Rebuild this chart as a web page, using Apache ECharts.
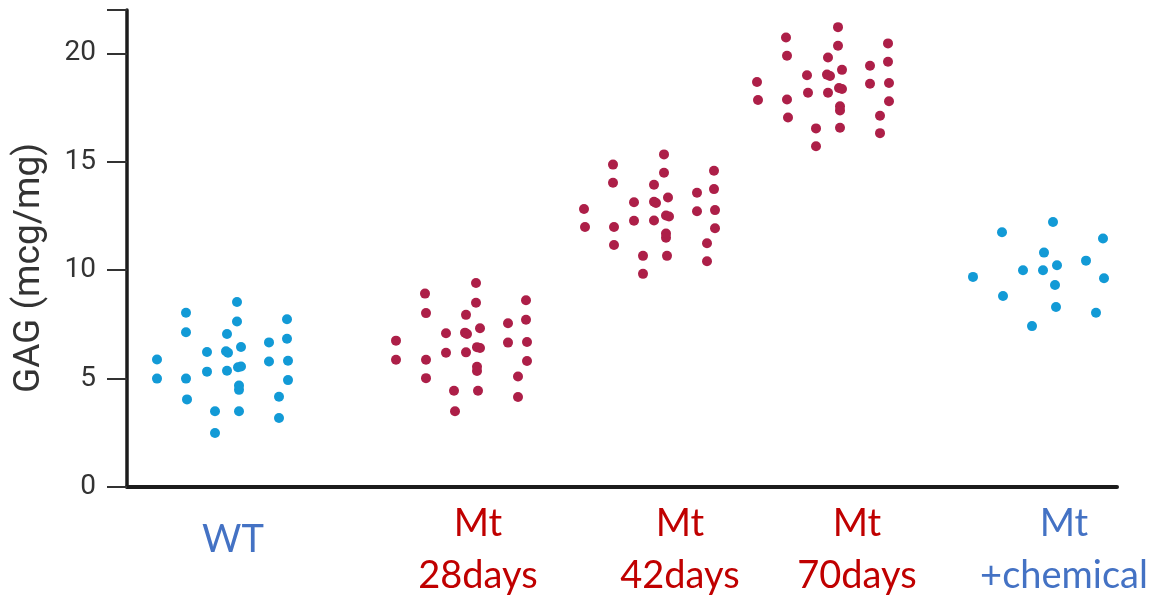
<!DOCTYPE html>
<html>
<head>
<meta charset="utf-8">
<title>GAG scatter</title>
<script src="https://cdn.jsdelivr.net/npm/echarts@6/dist/echarts.min.js"></script>
<style>
  html, body { margin: 0; padding: 0; background: #fff; }
  #chart { width: 1153px; height: 598px; }
</style>
</head>
<body>
<div id="chart"></div>
<script>
// group names, shown under the axis
const groups = ['WT', 'Mt\n28days', 'Mt\n42days', 'Mt\n70days', 'Mt\n+chemical']
const groupColor = ['blue', 'red', 'red', 'red', 'blue']

// each point: [horizontal spread within the strip, GAG value]
const wt = [
    [110, 8.53], [59, 8.04], [160, 7.74], [110, 7.63], [59, 7.14], [100, 7.06],
    [142, 6.67], [160, 6.84], [114, 6.46], [80, 6.23], [99, 6.26], [101, 6.19],
    [30, 5.88], [142, 5.79], [161, 5.82], [111, 5.52], [114, 5.56], [80, 5.32],
    [100, 5.36], [30, 5.0], [59, 5.0], [161, 4.93], [112, 4.48], [112, 4.68],
    [60, 4.04], [152, 4.16], [88, 3.49], [112, 3.49], [152, 3.18], [88, 2.49],
]
const mt28 = [
    [349, 9.41], [298, 8.92], [399, 8.61], [349, 8.50], [299, 8.02], [339, 7.94],
    [381, 7.55], [399, 7.71], [353, 7.32], [319, 7.09], [338, 7.12], [340, 7.06],
    [269, 6.75], [381, 6.66], [400, 6.69], [350, 6.45], [353, 6.41], [319, 6.19],
    [339, 6.21], [269, 5.87], [299, 5.87], [400, 5.81], [350, 5.35], [350, 5.55],
    [299, 5.02], [391, 5.10], [327, 4.44], [351, 4.44], [391, 4.15], [328, 3.49],
]
const mt42 = [
    [537, 15.34], [486, 14.87], [587, 14.59], [537, 14.49], [486, 14.03], [527, 13.94],
    [570, 13.57], [587, 13.74], [541, 13.35], [507, 13.13], [527, 13.16], [529, 13.10],
    [457, 12.82], [570, 12.72], [588, 12.77], [539, 12.52], [542, 12.48], [507, 12.28],
    [527, 12.29], [458, 11.99], [487, 11.99], [588, 11.93], [539, 11.50], [539, 11.69],
    [487, 11.16], [580, 11.24], [516, 10.66], [540, 10.66], [580, 10.41], [516, 9.83],
]
const mt70 = [
    [711, 21.21], [659, 20.73], [761, 20.46], [711, 20.35], [660, 19.89], [701, 19.81],
    [743, 19.43], [761, 19.61], [715, 19.24], [680, 18.99], [700, 19.02], [703, 18.96],
    [630, 18.68], [743, 18.60], [762, 18.63], [712, 18.40], [715, 18.36], [681, 18.18],
    [701, 18.18], [631, 17.85], [660, 17.87], [762, 17.79], [713, 17.37], [713, 17.56],
    [661, 17.04], [753, 17.12], [689, 16.54], [713, 16.57], [753, 16.32], [689, 15.72],
]
const chemical = [
    [926, 12.22], [875, 11.75], [976, 11.46], [917, 10.81], [959, 10.44], [930, 10.23],
    [896, 10.0], [916, 10.0], [846, 9.69], [977, 9.63], [928, 9.32], [876, 8.81],
    [929, 8.30], [969, 8.04], [905, 7.42],
]
const yMax = 22
const yStep = 5

const seriesData = [wt, mt28, mt42, mt70, chemical]
const dotColor = { blue: '#129ad6', red: '#ad1f48' }
const textColor = { blue: '#4472c4', red: '#c00000' }
const labelAt = [106, 351, 553, 730, 937]

const chart = echarts.init(document.getElementById('chart'))

chart.setOption({
    animation: false,
    grid: { left: 127, right: 36, top: 10, bottom: 111 },
    xAxis: {
        type: 'value',
        min: 0,
        max: 990,
        splitLine: { show: false },
        axisLine: { show: true, lineStyle: { color: '#1c1c1c', width: 4 } },
        axisTick: { show: false },
        axisLabel: {
            customValues: labelAt,
            margin: 11,
            verticalAlign: 'top',
            formatter(value) {
                const i = labelAt.indexOf(value)
                if (i < 0) return ''
                const style = groupColor[i]
                if (groups[i].indexOf('\n') < 0) return `{${style}Single|${groups[i]}}`
                return groups[i].split('\n').map(line => `{${style}|${line}}`).join('\n')
            },
            rich: {
                blue: { color: textColor.blue, fontSize: 38, fontFamily: 'Lato', lineHeight: 52 },
                red: { color: textColor.red, fontSize: 38, fontFamily: 'Lato', lineHeight: 52 },
                blueSingle: { color: textColor.blue, fontSize: 38, fontFamily: 'Lato', lineHeight: 84 },
            },
        },
    },
    yAxis: [
        {
            // ticks and numbers, set a little left of the axis line
            type: 'value',
            min: 0,
            max: yMax,
            interval: yStep,
            offset: 4,
            splitLine: { show: false },
            axisLine: { show: true, lineStyle: { color: 'rgba(0,0,0,0)' } },
            axisTick: {
                show: true,
                length: 20,
                lineStyle: { color: '#333', width: 2 },
            },
            axisLabel: {
                margin: 27,
                color: '#333',
                fontSize: 28,
                fontFamily: 'Roboto',
                formatter: value => (value % yStep === 0 ? String(value) : ''),
            },
        },
        {
            // the axis line itself
            type: 'value',
            min: 0,
            max: yMax,
            position: 'left',
            splitLine: { show: false },
            axisLine: { show: true, lineStyle: { color: '#1c1c1c', width: 3.5 } },
            axisTick: { show: false },
            axisLabel: { show: false },
        },
    ],
    graphic: [
        {
            type: 'text',
            x: 30,
            y: 268,
            rotation: Math.PI / 2,
            style: {
                text: 'GAG (mcg/mg)',
                fill: '#333',
                fontSize: 37,
                fontFamily: 'Roboto',
                align: 'center',
                verticalAlign: 'middle',
            },
        },
    ],
    series: seriesData.map((data, i) => ({
        type: 'scatter',
        name: groups[i].replace('\n', ' '),
        data,
        symbolSize: 10,
        itemStyle: { color: dotColor[groupColor[i]], opacity: 1 },
    })),
})
</script>
</body>
</html>
